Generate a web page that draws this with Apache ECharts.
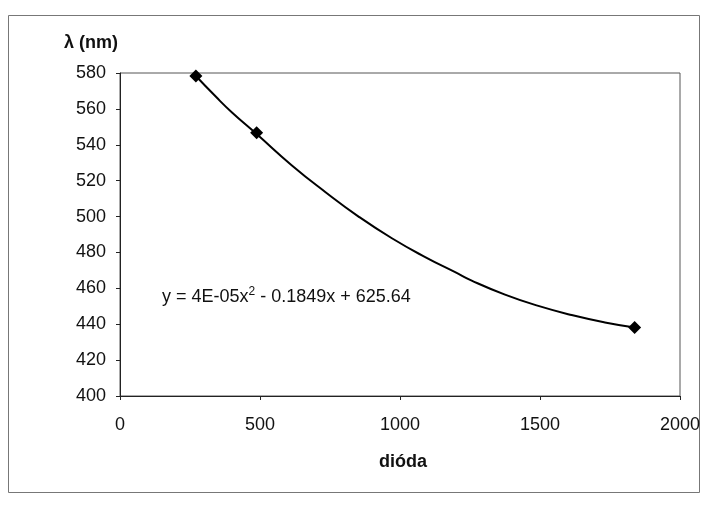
<!DOCTYPE html>
<html>
<head>
<meta charset="utf-8">
<style>
  html, body { margin: 0; padding: 0; background: #fff; }
  #chart { width: 707px; height: 507px; }
</style>
<script src="https://cdn.jsdelivr.net/npm/echarts@6/dist/echarts.min.js"></script>
</head>
<body>
<div id="chart"></div>
<script>
// Measured diode positions and wavelengths
const diodePos = [271, 488, 1838];
const wavelength = [578.3, 546.7, 438.2];

// Polynomial trendline
const trendX = [271, 341, 400, 488, 614, 733, 852, 971, 1090, 1197, 1256, 1375, 1494, 1613, 1732, 1838];
const trendY = [578.3, 567.0, 558.0, 546.0, 528.5, 513.7, 500.0, 487.9, 477.4, 469.0, 464.3, 456.5, 450.2, 445.1, 441.0, 438.2];

// Axis ranges and labels
const xAxisRange = { min: 0, max: 2000, step: 500 };
const yAxisRange = { min: 400, max: 580, step: 20 };
const yTitle = 'λ (nm)';
const xTitle = 'dióda';
const equation = ['y = 4E-05x', '2', ' - 0.1849x + 625.64'];

const FONT = '"Liberation Sans", Arial, sans-serif';

const points = diodePos.map((x, i) => [x, wavelength[i]]);
const trend = trendX.map((x, i) => [x, trendY[i]]);

const chart = echarts.init(document.getElementById('chart'), null, { renderer: 'canvas' });

chart.setOption({
  backgroundColor: '#ffffff',
  animation: false,
  grid: {
    left: 120, right: 27, top: 73, bottom: 111,
    show: true, borderColor: '#555', borderWidth: 1, backgroundColor: 'transparent'
  },
  xAxis: {
    type: 'value',
    min: xAxisRange.min, max: xAxisRange.max, interval: xAxisRange.step,
    axisLine: { show: true, onZero: false, lineStyle: { color: '#222', width: 1 } },
    axisTick: { show: true, length: 4, lineStyle: { color: '#222' } },
    splitLine: { show: false },
    axisLabel: {
      color: '#111', fontFamily: FONT, fontSize: 18, margin: 20,
      formatter: v => String(v)
    }
  },
  yAxis: {
    type: 'value',
    min: yAxisRange.min, max: yAxisRange.max, interval: yAxisRange.step,
    axisLine: { show: true, lineStyle: { color: '#222', width: 1 } },
    axisTick: { show: true, length: 4, lineStyle: { color: '#222' } },
    splitLine: { show: false },
    axisLabel: {
      color: '#111', fontFamily: FONT, fontSize: 18, margin: 14,
      padding: [6, 0, 0, 0],
      formatter: v => String(v)
    }
  },
  series: [
    {
      name: 'trend',
      type: 'line',
      data: trend,
      smooth: true,
      showSymbol: false,
      lineStyle: { color: '#000', width: 2 },
      z: 2
    },
    {
      name: 'measured',
      type: 'scatter',
      data: points,
      symbol: 'diamond',
      symbolSize: 13,
      itemStyle: { color: '#000', opacity: 1 },
      z: 3
    }
  ],
  graphic: [
    {
      type: 'rect',
      shape: { x: 8.5, y: 15.5, width: 691, height: 477 },
      style: { fill: 'none', stroke: '#777', lineWidth: 1 },
      silent: true
    },
    {
      type: 'text',
      x: 91, y: 43,
      style: { text: yTitle, font: 'bold 18px ' + FONT, fill: '#111', align: 'center', verticalAlign: 'middle' }
    },
    {
      type: 'text',
      x: 403, y: 462,
      style: { text: xTitle, font: 'bold 18px ' + FONT, fill: '#111', align: 'center', verticalAlign: 'middle' }
    },
    {
      type: 'text',
      left: 162, top: 286,
      style: {
        text: '{a|' + equation[0] + '}{s|' + equation[1] + '}{a|' + equation[2] + '}',
        rich: {
          a: { fontFamily: FONT, fontSize: 18, fill: '#111', color: '#111', verticalAlign: 'bottom', lineHeight: 20 },
          s: { fontFamily: FONT, fontSize: 12, fill: '#111', color: '#111', verticalAlign: 'top', lineHeight: 20, padding: [0, 0, 7, 0] }
        }
      }
    }
  ]
});
</script>
</body>
</html>
